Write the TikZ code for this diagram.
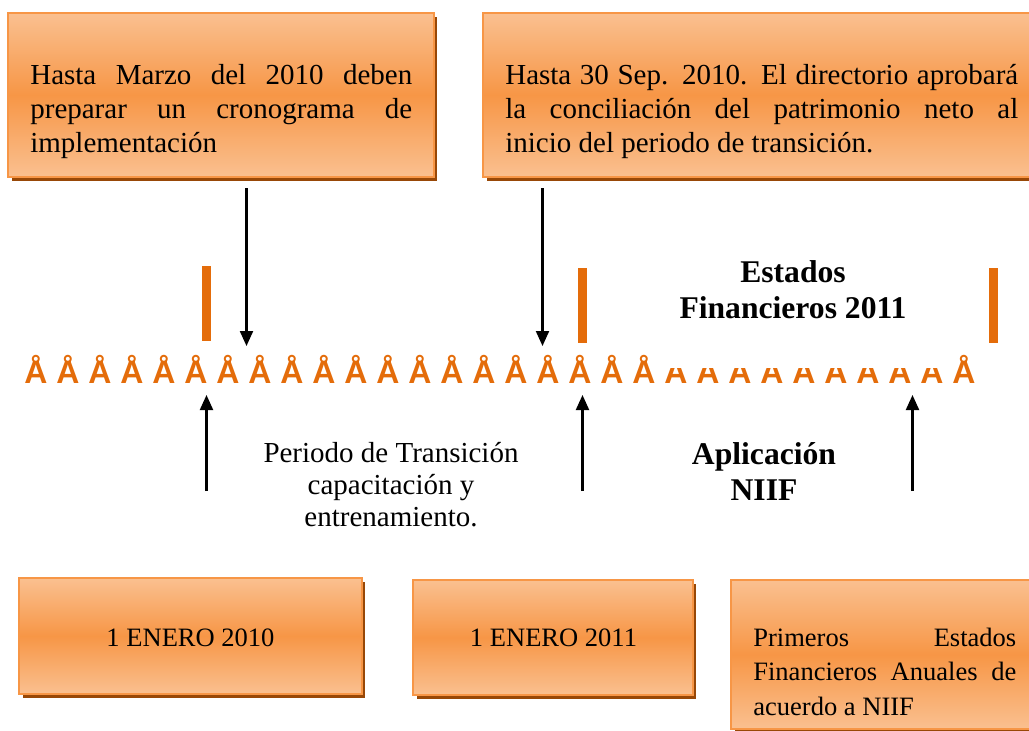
\documentclass[tikz,border=0pt]{standalone}
\usepackage{fontspec}
\setmainfont{Liberation Serif}
\newfontfamily\ringfont{Liberation Sans}
\usepackage{tikz}
\usetikzlibrary{
        arrows.meta,
        shadows
    }
\definecolor{boxlight}{HTML}{FAC090}
\definecolor{boxmid}{HTML}{F79646}
\definecolor{boxshade}{HTML}{984807}
\definecolor{markorange}{HTML}{E46C0A}
\tikzset{>={Triangle[width=0.26cm,length=0.3cm]},x=0.02cm,y=-0.02cm}
\tikzset{
    datebox/.style={rectangle,draw=boxmid,line width=1pt,inner sep=0pt,
        top color=boxlight,bottom color=boxlight,middle color=boxmid,
        general shadow={fill=boxshade,shadow xshift=0.07cm,shadow yshift=-0.08cm}},
    boxtext/.style={inner sep=0pt,align=justify,anchor=base west,
        font=\fontsize{16.5}{19.6}\selectfont},
    datetext/.style={inner sep=0pt,anchor=base,font=\fontsize{15.1}{19.9}\selectfont},
    plainlabel/.style={inner sep=0pt,anchor=base,align=center,
        font=\fontsize{16.5}{18.2}\selectfont},
    boldlabel/.style={inner sep=0pt,anchor=base,align=center,
        font=\bfseries\fontsize{18}{20.2}\selectfont},
    ringmark/.style={inner sep=0pt,anchor=base,text=markorange,
        font=\ringfont\bfseries\fontsize{18.2}{20}\selectfont},
    yearbar/.style={draw=markorange,line width=0.18cm},
    pointer/.style={->,line width=1.2pt}
}

\begin{document}
\begin{tikzpicture}
                        \useasboundingbox (0,0) rectangle (1029,731);
                        \clip (0,0) rectangle (1029,731);
                        % cuadros superiores
                        \node[datebox,minimum width=8.52cm,minimum height=3.28cm] (marzo) at (221,95) {};
                        \node[datebox,minimum width=11.24cm,minimum height=3.28cm] (sept) at (764,95) {};
                        \node[boxtext,text width=7.64cm] (marzotxt) at (30,84)
                            {Hasta Marzo del 2010 deben\linebreak preparar un cronograma de\linebreak implementación};
                        \node[boxtext,text width=10.26cm] (septtxt) at (505,84)
                            {Hasta 30 Sep. 2010. El directorio aprobará\linebreak la conciliación del patrimonio neto al\linebreak inicio del periodo de transición.};
                        % linea de tiempo
                        \foreach \n in {1,...,20,30}
                            \node[ringmark] (ring\n) at ({4+32*\n},383) {Å};
                        \begin{scope}
                            \clip (660,368) rectangle (950,395);
                            \foreach \n in {21,...,29}
                                \node[ringmark] (ring\n) at ({4+32*\n},383) {Å};
                        \end{scope}
                        \draw[yearbar] (206.5,266) -- (206.5,341);
                        \draw[yearbar] (582.5,268) -- (582.5,343);
                        \draw[yearbar] (993,268) -- (993,343);
                        % flechas
                        \coordinate (down1) at (246.5,188);
                        \coordinate (down1e) at (246.5,346);
                        \coordinate (down2) at (542.5,188);
                        \coordinate (down2e) at (542.5,346);
                        \coordinate (up1) at (206.5,491);
                        \coordinate (up1e) at (206.5,395);
                        \coordinate (up2) at (582.5,491);
                        \coordinate (up2e) at (582.5,395);
                        \coordinate (up3) at (912.5,491);
                        \coordinate (up3e) at (912.5,395);
                        \draw[pointer] (down1) -- (down1e);
                        \draw[pointer] (down2) -- (down2e);
                        \draw[pointer] (up1) -- (up1e);
                        \draw[pointer] (up2) -- (up2e);
                        \draw[pointer] (up3) -- (up3e);
                        % textos centrales
                        \node[boldlabel] (estados) at (793,318) {Estados\\Financieros 2011};
                        \node[plainlabel] (periodo) at (391,526) {Periodo de Transición\\capacitación y\\entrenamiento.};
                        \node[boldlabel] (aplica) at (764,500) {Aplicación\\NIIF};
                        % cuadros inferiores
                        \node[datebox,minimum width=6.86cm,minimum height=2.32cm] (enero10) at (190.5,636) {};
                        \node[datebox,minimum width=5.6cm,minimum height=2.3cm] (enero11) at (553,637.5) {};
                        \node[datebox,minimum width=6.28cm,minimum height=2.98cm] (primeros) at (888,654.5) {};
                        \node[datetext] (enero10txt) at (190.5,646) {1 ENERO 2010};
                        \node[datetext] (enero11txt) at (553.5,646) {1 ENERO 2011};
                        \node[boxtext,text width=5.26cm,font=\fontsize{15.1}{19.9}\selectfont] (primerostxt) at (753,646)
                            {Primeros Estados\linebreak Financieros Anuales de\linebreak acuerdo a NIIF};
                    \end{tikzpicture}
\end{document}
